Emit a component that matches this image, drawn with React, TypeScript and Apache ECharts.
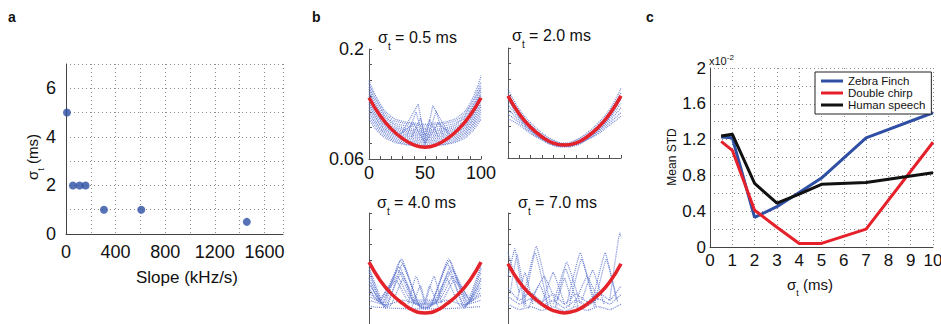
import React, { useEffect, useRef } from "react";
import * as echarts from "echarts";

// ---------- Panel a ----------
const SLOPE_KHZ_S = [8, 56, 110, 158, 306, 607, 1458];
const SIGMA_T_MS = [5, 2, 2, 2, 1, 1, 0.5];

// ---------- Panel b ----------
const B_X = [0, 10, 20, 30, 40, 50, 60, 70, 80, 90, 100];

const RED_05 = [0.138, 0.115, 0.098, 0.086, 0.078, 0.075, 0.078, 0.086, 0.098, 0.115, 0.138];
const RED_20 = [0.139, 0.116, 0.099, 0.087, 0.079, 0.0765, 0.079, 0.087, 0.099, 0.116, 0.139];
const RED_40 = [0.138, 0.115, 0.098, 0.086, 0.077, 0.074, 0.077, 0.086, 0.098, 0.115, 0.138];
const RED_70 = [0.136, 0.113, 0.097, 0.085, 0.077, 0.074, 0.077, 0.085, 0.097, 0.113, 0.136];

const BLUE_05 = [
  [0.160, 0.130, 0.114, 0.108, 0.106, 0.104, 0.106, 0.108, 0.114, 0.130, 0.166],
  [0.156, 0.127, 0.111, 0.106, 0.104, 0.102, 0.104, 0.106, 0.111, 0.127, 0.158],
  [0.152, 0.124, 0.108, 0.103, 0.101, 0.099, 0.101, 0.103, 0.108, 0.124, 0.153],
  [0.149, 0.121, 0.106, 0.100, 0.098, 0.097, 0.098, 0.100, 0.106, 0.121, 0.150],
  [0.146, 0.118, 0.103, 0.098, 0.096, 0.095, 0.096, 0.098, 0.103, 0.118, 0.146],
  [0.143, 0.116, 0.101, 0.096, 0.094, 0.093, 0.094, 0.096, 0.101, 0.116, 0.143],
  [0.140, 0.113, 0.099, 0.094, 0.092, 0.091, 0.092, 0.094, 0.099, 0.113, 0.140],
  [0.137, 0.110, 0.097, 0.092, 0.090, 0.089, 0.090, 0.092, 0.097, 0.110, 0.137],
  [0.133, 0.108, 0.095, 0.090, 0.088, 0.087, 0.088, 0.090, 0.095, 0.108, 0.134],
  [0.130, 0.105, 0.093, 0.088, 0.086, 0.085, 0.086, 0.088, 0.093, 0.105, 0.130],
  [0.126, 0.103, 0.091, 0.086, 0.084, 0.083, 0.084, 0.086, 0.091, 0.103, 0.127],
  [0.122, 0.100, 0.089, 0.084, 0.082, 0.081, 0.082, 0.084, 0.089, 0.100, 0.123],
  [0.118, 0.098, 0.087, 0.082, 0.080, 0.079, 0.080, 0.082, 0.087, 0.098, 0.119],
  [0.114, 0.095, 0.085, 0.080, 0.078, 0.077, 0.078, 0.080, 0.085, 0.095, 0.115],
  [0.110, 0.092, 0.083, 0.079, 0.077, 0.076, 0.077, 0.079, 0.083, 0.092, 0.111],
];
const PEAKS_05 = [
  [[30, 0.095], [44, 0.130], [50, 0.082], [57, 0.128], [70, 0.095]],
  [[34, 0.090], [42, 0.120], [50, 0.078], [60, 0.121], [66, 0.090]],
  [[38, 0.088], [46, 0.112], [50, 0.090], [54, 0.110], [62, 0.088]],
  [[28, 0.092], [40, 0.105], [50, 0.080], [62, 0.106], [72, 0.092]],
];

const BLUE_20 = [
  [0.148, 0.122, 0.105, 0.092, 0.083, 0.079, 0.083, 0.092, 0.105, 0.122, 0.149],
  [0.142, 0.119, 0.102, 0.090, 0.082, 0.078, 0.082, 0.090, 0.102, 0.119, 0.143],
  [0.134, 0.114, 0.099, 0.088, 0.080, 0.077, 0.080, 0.088, 0.099, 0.114, 0.135],
  [0.128, 0.111, 0.097, 0.086, 0.079, 0.076, 0.079, 0.086, 0.097, 0.111, 0.130],
  [0.122, 0.108, 0.095, 0.085, 0.078, 0.075, 0.078, 0.085, 0.095, 0.108, 0.124],
  [0.116, 0.105, 0.093, 0.084, 0.077, 0.075, 0.077, 0.084, 0.093, 0.105, 0.118],
  [0.110, 0.102, 0.091, 0.083, 0.077, 0.075, 0.077, 0.083, 0.091, 0.102, 0.113],
  [0.136, 0.112, 0.095, 0.084, 0.076, 0.074, 0.076, 0.084, 0.095, 0.112, 0.137],
];

const BLUE_40 = [
  [[0, 0.125], [12, 0.085], [28, 0.140], [45, 0.082], [50, 0.079], [55, 0.082], [72, 0.140], [88, 0.085], [100, 0.125]],
  [[0, 0.128], [13, 0.083], [29, 0.142], [46, 0.081], [54, 0.081], [71, 0.142], [87, 0.083], [100, 0.130]],
  [[0, 0.118], [10, 0.090], [27, 0.132], [42, 0.085], [58, 0.085], [73, 0.132], [90, 0.090], [100, 0.118]],
  [[0, 0.114], [11, 0.086], [26, 0.128], [41, 0.086], [59, 0.086], [74, 0.128], [89, 0.086], [100, 0.116]],
  [[0, 0.110], [14, 0.082], [29, 0.125], [40, 0.088], [50, 0.080], [60, 0.088], [71, 0.125], [86, 0.082], [100, 0.110]],
  [[0, 0.105], [9, 0.088], [24, 0.115], [36, 0.088], [64, 0.088], [76, 0.115], [91, 0.088], [100, 0.106]],
  [[0, 0.100], [8, 0.090], [25, 0.120], [38, 0.090], [62, 0.090], [75, 0.120], [92, 0.090], [100, 0.100]],
  [[0, 0.095], [18, 0.082], [31, 0.118], [44, 0.084], [56, 0.084], [69, 0.118], [82, 0.082], [100, 0.096]],
  [[0, 0.132], [15, 0.080], [30, 0.136], [47, 0.080], [53, 0.080], [70, 0.136], [85, 0.080], [100, 0.134]],
  [[0, 0.082], [20, 0.080], [40, 0.079], [60, 0.079], [80, 0.080], [100, 0.082]],
  [[0, 0.090], [15, 0.084], [30, 0.090], [50, 0.082], [70, 0.090], [85, 0.084], [100, 0.090]],
  [[35, 0.085], [42, 0.120], [50, 0.085]],
  [[50, 0.085], [58, 0.120], [65, 0.085]],
  [[38, 0.080], [46, 0.108], [50, 0.090], [54, 0.108], [62, 0.080]],
];

const BLUE_70 = [
  [[0, 0.120], [6, 0.155], [14, 0.085]],
  [[2, 0.100], [8, 0.148], [16, 0.082]],
  [[12, 0.085], [25, 0.158], [38, 0.082]],
  [[14, 0.082], [24, 0.150], [36, 0.080]],
  [[40, 0.085], [52, 0.138], [64, 0.085]],
  [[42, 0.082], [51, 0.130], [62, 0.082]],
  [[52, 0.085], [64, 0.150], [76, 0.085]],
  [[54, 0.082], [65, 0.142], [78, 0.082]],
  [[74, 0.085], [86, 0.150], [96, 0.090]],
  [[76, 0.082], [87, 0.142], [97, 0.088]],
  [[90, 0.090], [99, 0.175], [100, 0.170]],
  [[30, 0.085], [40, 0.125], [50, 0.085]],
  [[65, 0.088], [75, 0.128], [85, 0.085]],
  [[20, 0.090], [32, 0.120], [44, 0.082]],
  [[58, 0.082], [70, 0.120], [80, 0.090]],
  [[8, 0.090], [15, 0.125], [22, 0.085]],
  [[0, 0.150], [4, 0.130], [10, 0.100]],
  [[0, 0.085], [10, 0.078], [20, 0.082], [30, 0.077], [40, 0.082], [50, 0.076], [60, 0.082], [70, 0.077], [80, 0.082], [90, 0.078], [100, 0.085]],
  [[0, 0.095], [10, 0.085], [20, 0.092], [30, 0.083], [40, 0.090], [50, 0.080], [60, 0.090], [70, 0.083], [80, 0.092], [90, 0.085], [100, 0.097]],
  [[0, 0.105], [10, 0.090], [20, 0.100], [30, 0.088], [40, 0.098], [50, 0.085], [60, 0.098], [70, 0.088], [80, 0.100], [90, 0.090], [100, 0.108]],
  [[44, 0.090], [50, 0.118], [56, 0.090]],
  [[18, 0.080], [28, 0.110], [36, 0.080]],
];

// ---------- Panel c ----------
const SIGMA_C = [0.5, 1, 2, 3, 4, 5, 7, 10];
const ZEBRA_FINCH = [1.23, 1.22, 0.33, 0.45, 0.61, 0.77, 1.22, 1.5];
const DOUBLE_CHIRP = [1.18, 1.08, 0.41, 0.22, 0.04, 0.04, 0.2, 1.17];
const HUMAN_SPEECH = [1.24, 1.26, 0.71, 0.49, 0.59, 0.7, 0.72, 0.83];

const FONT = '"Liberation Sans", Arial, Helvetica, sans-serif';
const BLUE_DOT = "#6a7fd2";
const RED_B = "#e3222a";
const GRID_LINE = { lineStyle: { color: "#8c8c8c", type: [1, 3] as any, width: 1 } };
const AXIS_LINE = { lineStyle: { color: "#444", width: 1 } };

const pairs = (ys: number[]) => B_X.map((x, i) => [x, ys[i]]);

function sigmaText(rest: string, size: number) {
  return {
    text: `{m|σ}{s|t}{m|${rest}}`,
    rich: {
      m: { fontSize: size, fontFamily: FONT, lineHeight: size + 12, fill: "#111" },
      s: { fontSize: Math.round(size * 0.6), fontFamily: FONT, lineHeight: 6, verticalAlign: "bottom", fill: "#111" },
    },
  };
}

export default function App() {
  const ref = useRef<HTMLDivElement>(null);
  useEffect(() => {
    if (!ref.current) return;
    const chart = echarts.init(ref.current, null, { renderer: "svg" });

    const bGrids = [
      { left: 369, top: 49, width: 112, height: 110 },
      { left: 508, top: 48, width: 113, height: 110 },
      { left: 369, top: 213, width: 112, height: 111 },
      { left: 508, top: 213, width: 113, height: 111 },
    ];
    const grids = [
      { left: 66, top: 64, width: 217, height: 170 },
      ...bGrids,
      { left: 710, top: 68, width: 223, height: 179 },
    ].map((g) => ({ ...g, containLabel: false, outerBoundsMode: "none" }));

    const xAxes: any[] = [
      {
        gridIndex: 0, type: "value", min: 0, max: 1750, interval: 200,
        axisLine: AXIS_LINE, axisTick: { show: false }, splitLine: GRID_LINE,
        axisLabel: {
          margin: 9, fontSize: 18, fontFamily: FONT, color: "#111",
          formatter: (v: number) => (Math.round(v) % 400 === 0 && v <= 1600 ? String(Math.round(v)) : ""),
        },
      },
    ];
    const yAxes: any[] = [
      {
        gridIndex: 0, type: "value", min: 0, max: 7, interval: 1,
        axisLine: { show: true, ...AXIS_LINE }, axisTick: { show: false }, splitLine: GRID_LINE,
        axisLabel: {
          margin: 10, fontSize: 18, fontFamily: FONT, color: "#111",
          formatter: (v: number) => (Math.round(v) % 2 === 0 && v <= 6 ? String(Math.round(v)) : ""),
        },
      },
    ];
    bGrids.forEach((_, i) => {
      const gi = i + 1;
      const isTL = i === 0;
      const isBottomRow = i >= 2;
      xAxes.push({
        gridIndex: gi, type: "value", min: 0, max: 100, interval: 10,
        axisLine: { show: !isBottomRow, lineStyle: { color: "#555", width: 1 } },
        axisTick: { show: !isBottomRow, inside: true, length: 3, lineStyle: { color: "#555" } },
        splitLine: { show: false },
        axisLabel: {
          show: isTL, margin: 5, fontSize: 18, fontFamily: FONT, color: "#111",
          formatter: (v: number) => (Math.round(v) % 50 === 0 ? String(Math.round(v)) : ""),
        },
      });
      yAxes.push({
        gridIndex: gi, type: "value", min: 0.06, max: 0.2, interval: 0.02,
        axisLine: { show: true, lineStyle: { color: "#555", width: 1 } },
        axisTick: { show: true, inside: true, length: 3, lineStyle: { color: "#555" } },
        splitLine: { show: false },
        axisLabel: {
          show: isTL, margin: 5, fontSize: 18, fontFamily: FONT, color: "#111",
          formatter: (v: number) =>
            Math.abs(v - 0.06) < 1e-6 ? "0.06" : Math.abs(v - 0.2) < 1e-6 ? "0.2" : "",
        },
      });
    });
    xAxes.push({
      gridIndex: 5, type: "value", min: 0, max: 10, interval: 1,
      axisLine: AXIS_LINE, axisTick: { show: false }, splitLine: GRID_LINE,
      axisLabel: { margin: 5, fontSize: 17, fontFamily: FONT, color: "#111" },
    });
    yAxes.push({
      gridIndex: 5, type: "value", min: 0, max: 2, interval: 0.2,
      axisLine: { show: true, ...AXIS_LINE }, axisTick: { show: false }, splitLine: GRID_LINE,
      axisLabel: {
        margin: 4, fontSize: 17, fontFamily: FONT, color: "#111",
        formatter: (v: number) => {
          const k = Math.round(v * 10);
          if (k % 4 !== 0) return "";
          if (k === 0) return "0";
          return k % 10 === 0 ? String(k / 10) : (k / 10).toFixed(1);
        },
      },
    });

    const series: any[] = [];
    // panel a
    series.push({
      type: "scatter", xAxisIndex: 0, yAxisIndex: 0,
      data: SLOPE_KHZ_S.map((s, i) => [s, SIGMA_T_MS[i]]),
      symbolSize: 8, itemStyle: { color: "#2c4ea3" }, silent: true,
    });
    const blue = (data: number[][], gi: number, smooth: boolean | number) => ({
      type: "line", xAxisIndex: gi, yAxisIndex: gi, data, symbol: "none", showSymbol: false,
      smooth, silent: true, z: 2,
      lineStyle: { color: BLUE_DOT, width: 1.2, type: [1, 1], opacity: 0.95 },
    });
    const red = (ys: number[], gi: number) => ({
      type: "line", xAxisIndex: gi, yAxisIndex: gi, data: pairs(ys), symbol: "none", showSymbol: false,
      smooth: true, silent: true, z: 3, lineStyle: { color: RED_B, width: 3.5 },
    });
    BLUE_05.forEach((t) => series.push(blue(pairs(t), 1, true)));
    PEAKS_05.forEach((t) => series.push(blue(t, 1, false)));
    series.push(red(RED_05, 1));
    BLUE_20.forEach((t) => series.push(blue(pairs(t), 2, true)));
    series.push(red(RED_20, 2));
    BLUE_40.forEach((t) => series.push(blue(t, 3, 0.15)));
    series.push(red(RED_40, 3));
    BLUE_70.forEach((t) => series.push(blue(t, 4, 0.1)));
    series.push(red(RED_70, 4));
    // panel c
    const cLine = (name: string, ys: number[], color: string) => ({
      name, type: "line", xAxisIndex: 5, yAxisIndex: 5,
      data: SIGMA_C.map((x, i) => [x, ys[i]]), symbol: "none", showSymbol: false, silent: true,
      lineStyle: { color, width: 3 }, itemStyle: { color }, z: 4,
    });
    series.push(cLine("Zebra Finch", ZEBRA_FINCH, "#2f4fa5"));
    series.push(cLine("Double chirp", DOUBLE_CHIRP, "#e5202a"));
    series.push(cLine("Human speech", HUMAN_SPEECH, "#111111"));

    const letter = (t: string, x: number) => ({
      type: "text", x, y: 17,
      style: { text: t, fontSize: 14, fontWeight: "bold", fontFamily: FONT, fill: "#111", align: "left", verticalAlign: "middle" },
    });
    const sigmaGraphic = (rest: string, size: number, x: number, y: number, align: string, rotation = 0) => ({
      type: "text", x, y, rotation,
      style: { ...sigmaText(rest, size), align, verticalAlign: "middle", fill: "#111" },
    });

    const graphic: any[] = [
      letter("a", 8),
      letter("b", 312),
      letter("c", 646),
      sigmaGraphic(" (ms)", 15, 32, 157, "center", Math.PI / 2),
      {
        type: "text", x: 187, y: 277,
        style: { text: "Slope (kHz/s)", fontSize: 17, fontFamily: FONT, fill: "#111", align: "center", verticalAlign: "middle" },
      },
      sigmaGraphic(" = 0.5 ms", 16, 378, 37, "left"),
      sigmaGraphic(" = 2.0 ms", 16, 512, 35, "left"),
      sigmaGraphic(" = 4.0 ms", 16, 377, 202, "left"),
      sigmaGraphic(" = 7.0 ms", 16, 518, 202, "left"),
      {
        type: "text", x: 672, y: 157, rotation: Math.PI / 2,
        style: { text: "Mean STD", fontSize: 12, fontFamily: FONT, fill: "#111", align: "center", verticalAlign: "middle" },
      },
      sigmaGraphic(" (ms)", 15, 810, 284, "center"),
      {
        type: "text", x: 709, y: 61,
        style: {
          text: "{m|x10}{p|-2}",
          rich: {
            m: { fontSize: 11, fontFamily: FONT, lineHeight: 16, fill: "#111" },
            p: { fontSize: 8, fontFamily: FONT, lineHeight: 8, verticalAlign: "top", fill: "#111" },
          },
          align: "left", verticalAlign: "middle", fill: "#111",
        },
      },
    ];

    chart.setOption({
      animation: false,
      grid: grids,
      xAxis: xAxes,
      yAxis: yAxes,
      series,
      graphic,
      legend: {
        show: true,
        data: ["Zebra Finch", "Double chirp", "Human speech"],
        orient: "vertical",
        left: 815, top: 72,
        icon: "rect", itemWidth: 22, itemHeight: 3, itemGap: 0,
        padding: [3, 6, 3, 6],
        borderColor: "#222", borderWidth: 1, backgroundColor: "#fff",
        textStyle: { fontSize: 11.5, fontFamily: FONT, color: "#111", lineHeight: 11.5 },
        selectedMode: false,
        z: 10,
      },
    });
    return () => chart.dispose();
  }, []);
  return (
    <div
      ref={ref}
      style={{ position: "absolute", left: 0, top: 0, width: 941, height: 324, background: "#fff" }}
    />
  );
}
